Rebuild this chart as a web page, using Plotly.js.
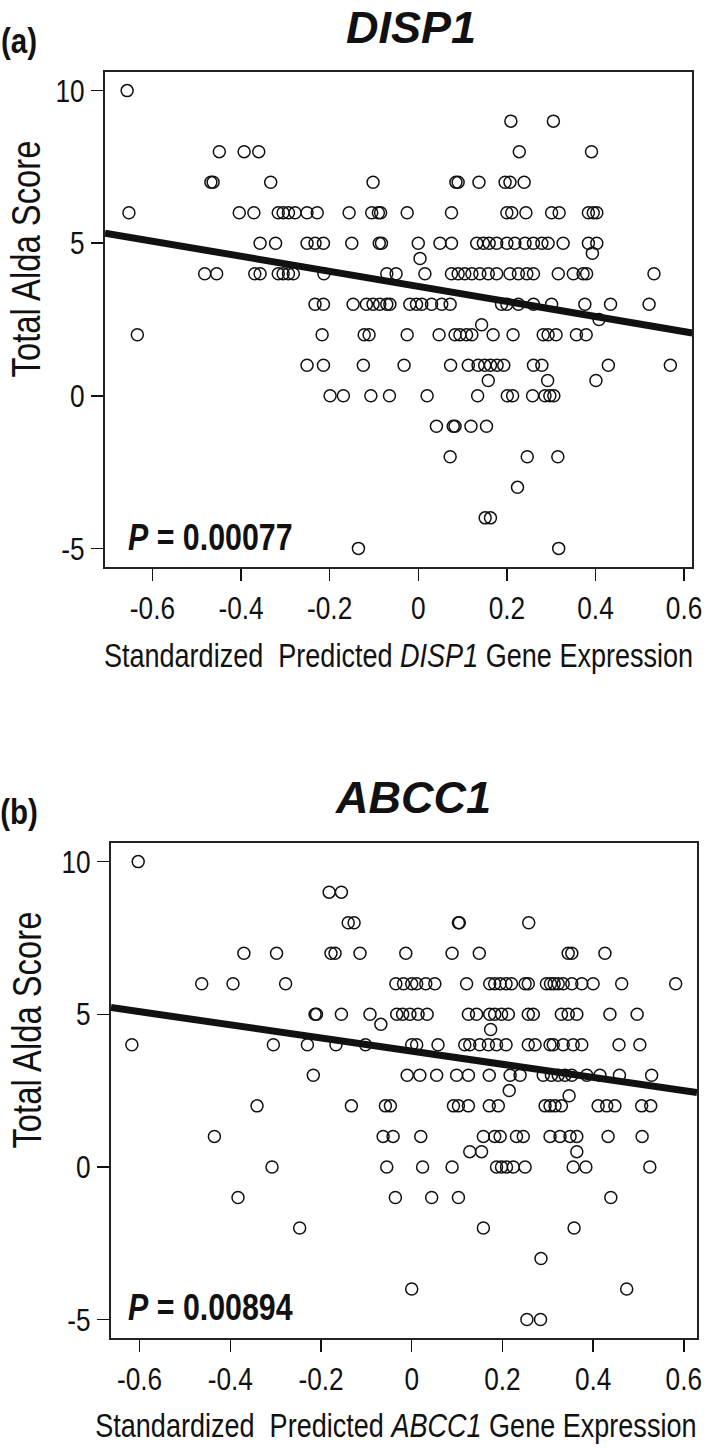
<!DOCTYPE html>
<html>
<head>
<meta charset="utf-8">
<script src="https://cdn.plot.ly/plotly-3.0.1.min.js"></script>
<style>html,body{margin:0;padding:0;background:#fff;}#chart{width:709px;height:1451px;}</style>
</head>
<body>
<div id="chart"></div>
<script>
// ---------- Panel (a) DISP1 ----------
const dispScores = [10, 9, 8, 7, 6, 5, 4.67, 4.5, 4, 3, 2.5, 2.33, 2, 1, 0.5, 0, -1, -2, -3, -4, -5];
const dispExpr = [
  [-0.657],
  [0.209, 0.305],
  [-0.449, -0.393, -0.360, 0.228, 0.391],
  [-0.468, -0.463, -0.333, -0.102, 0.085, 0.090, 0.137, 0.196, 0.207, 0.239],
  [-0.653, -0.404, -0.371, -0.316, -0.305, -0.293, -0.278, -0.251, -0.228, -0.156, -0.105, -0.090, -0.085, -0.025, 0.075, 0.200, 0.211, 0.243, 0.301, 0.318, 0.384, 0.395, 0.403],
  [-0.357, -0.322, -0.251, -0.233, -0.214, -0.150, -0.088, -0.083, 0.000, 0.049, 0.075, 0.132, 0.147, 0.160, 0.177, 0.200, 0.218, 0.241, 0.260, 0.279, 0.293, 0.327, 0.384, 0.403],
  [0.393],
  [0.004],
  [-0.482, -0.455, -0.369, -0.357, -0.316, -0.305, -0.293, -0.282, -0.213, -0.071, -0.050, 0.015, 0.075, 0.090, 0.105, 0.121, 0.139, 0.158, 0.177, 0.207, 0.226, 0.245, 0.260, 0.316, 0.350, 0.372, 0.380, 0.532],
  [-0.233, -0.214, -0.147, -0.117, -0.102, -0.087, -0.071, -0.064, -0.019, -0.004, 0.008, 0.030, 0.053, 0.072, 0.188, 0.200, 0.226, 0.260, 0.301, 0.376, 0.434, 0.521],
  [0.408],
  [0.143],
  [-0.634, -0.217, -0.122, -0.111, -0.025, 0.047, 0.083, 0.094, 0.109, 0.121, 0.169, 0.214, 0.282, 0.293, 0.311, 0.357, 0.379],
  [-0.251, -0.214, -0.124, -0.032, 0.073, 0.113, 0.135, 0.150, 0.163, 0.178, 0.193, 0.260, 0.279, 0.429, 0.569],
  [0.158, 0.292, 0.401],
  [-0.199, -0.169, -0.107, -0.065, 0.020, 0.134, 0.201, 0.213, 0.258, 0.286, 0.297, 0.306],
  [0.041, 0.079, 0.083, 0.119, 0.154],
  [0.072, 0.246, 0.315],
  [0.224],
  [0.151, 0.163],
  [-0.135, 0.317]
];
const dispFitX = [-0.707, 0.6185];
const dispFitY = [5.33, 2.06];
const dispP = "0.00077";

// ---------- Panel (b) ABCC1 ----------
const abccScores = [10, 9, 8, 7, 6, 5, 4.67, 4.5, 4, 3, 2.5, 2.33, 2, 1, 0.5, 0, -1, -2, -3, -4, -5];
const abccExpr = [
  [-0.603],
  [-0.182, -0.155],
  [-0.140, -0.127, 0.103, 0.105, 0.258],
  [-0.370, -0.298, -0.178, -0.169, -0.114, -0.013, 0.089, 0.149, 0.345, 0.353, 0.426],
  [-0.463, -0.394, -0.278, -0.035, -0.018, 0.000, 0.011, 0.031, 0.051, 0.121, 0.172, 0.183, 0.195, 0.208, 0.220, 0.250, 0.257, 0.297, 0.306, 0.314, 0.323, 0.334, 0.353, 0.375, 0.400, 0.463, 0.582],
  [-0.213, -0.210, -0.155, -0.092, -0.033, -0.020, -0.004, 0.014, 0.034, 0.125, 0.143, 0.172, 0.183, 0.198, 0.213, 0.257, 0.268, 0.330, 0.345, 0.364, 0.437, 0.497],
  [-0.068],
  [0.174],
  [-0.617, -0.305, -0.230, -0.167, -0.102, 0.000, 0.011, 0.058, 0.117, 0.128, 0.150, 0.169, 0.187, 0.208, 0.257, 0.272, 0.305, 0.312, 0.334, 0.356, 0.375, 0.457, 0.503],
  [-0.217, -0.010, 0.018, 0.055, 0.099, 0.125, 0.171, 0.217, 0.239, 0.290, 0.308, 0.323, 0.338, 0.353, 0.386, 0.415, 0.458, 0.529],
  [0.215],
  [0.347],
  [-0.341, -0.133, -0.058, -0.047, 0.092, 0.103, 0.125, 0.171, 0.191, 0.294, 0.305, 0.316, 0.330, 0.411, 0.430, 0.448, 0.507, 0.527],
  [-0.435, -0.063, -0.041, 0.020, 0.158, 0.183, 0.195, 0.231, 0.246, 0.305, 0.327, 0.349, 0.364, 0.433, 0.508],
  [0.128, 0.154, 0.364],
  [-0.308, -0.055, 0.024, 0.089, 0.187, 0.198, 0.209, 0.224, 0.250, 0.356, 0.384, 0.525],
  [-0.383, -0.036, 0.044, 0.103, 0.439],
  [-0.247, 0.158, 0.358],
  [0.285],
  [0.000, 0.474],
  [0.254, 0.284]
];
const abccFitX = [-0.663, 0.629];
const abccFitY = [5.22, 2.44];
const abccP = "0.00894";

// ---------- Axis ticks ----------
const xTickVals = [-0.6, -0.4, -0.2, 0, 0.2, 0.4, 0.6];
const xTickText = ["-0.6", "-0.4", "-0.2", "0", "0.2", "0.4", "0.6"];
const yTickVals = [-5, 0, 5, 10];
const yTickText = ["-5", "0", "5", "10"];

function flatten(scores, expr) {
  const xs = [], ys = [];
  scores.forEach((s, i) => expr[i].forEach(v => { xs.push(v); ys.push(s); }));
  return {xs, ys};
}
const A = flatten(dispScores, dispExpr);
const B = flatten(abccScores, abccExpr);

const W = 709, H = 1451;
const SANS = "'Liberation Sans', Arial, sans-serif";
const INK = '#111';
const NARROW_SCALE = 0.82; // emulate an Arial-Narrow-like condensed face

const markerStyle = {symbol: 'circle-open', size: 12, color: INK, line: {width: 1.5, color: INK}};

const traces = [
  {x: A.xs, y: A.ys, type: 'scatter', mode: 'markers', marker: markerStyle, xaxis: 'x', yaxis: 'y'},
  {x: dispFitX, y: dispFitY, type: 'scatter', mode: 'lines', line: {color: INK, width: 7}, xaxis: 'x', yaxis: 'y'},
  {x: B.xs, y: B.ys, type: 'scatter', mode: 'markers', marker: markerStyle, xaxis: 'x2', yaxis: 'y2'},
  {x: abccFitX, y: abccFitY, type: 'scatter', mode: 'lines', line: {color: INK, width: 7}, xaxis: 'x2', yaxis: 'y2'}
];

function baseAxis(domain, range, anchor, vals, texts) {
  return {domain, range, anchor, tickvals: vals, ticktext: texts,
    ticks: 'outside', ticklen: 12, tickwidth: 1.5, tickcolor: INK,
    showline: true, mirror: true, linecolor: '#222', linewidth: 2,
    showgrid: false, zeroline: false, fixedrange: true,
    tickfont: {family: SANS, size: 32, color: INK}};
}

const px = v => v / W;
const py = v => 1 - v / H;
const OFF = 770.7;

const annotations = [];
const narrowIdx = [];
function addAnn(a, narrow) {
  if (narrow) narrowIdx.push(annotations.length);
  annotations.push(Object.assign({xref: 'paper', yref: 'paper', showarrow: false, xanchor: 'center', yanchor: 'middle'}, a));
}
function panelAnnotations(tag, gene, pval, off, xCenter, titleX, frameMid) {
  addAnn({text: '<b>' + tag + '</b>', x: px(19), y: py(41 + off), font: {family: SANS, size: 36, color: INK}}, true);
  addAnn({text: '<b><i>' + gene + '</i></b>', x: px(titleX), y: py(27 + off), font: {family: SANS, size: 45, color: INK}}, false);
  addAnn({text: '<b><i>P</i> = ' + pval + '</b>', x: px(210), y: py(537 + off), font: {family: SANS, size: 37, color: INK}}, true);
  addAnn({text: 'Standardized&nbsp;&nbsp;Predicted <i>' + gene + '</i> Gene Expression', x: px(xCenter), y: py(655 + off), font: {family: SANS, size: 33, color: INK}}, true);
  addAnn({text: 'Total Alda Score', textangle: -90, x: px(27), y: py(frameMid - 60), font: {family: SANS, size: 40, color: INK}}, true);
}
panelAnnotations('(a)', 'DISP1', dispP, 0, 398, 411, (72.3 + 566.7) / 2);
panelAnnotations('(b)', 'ABCC1', abccP, OFF, 396, 413, (843.3 + 1337.9) / 2);

const layout = {
  width: W, height: H, margin: {l: 0, r: 0, t: 0, b: 0},
  paper_bgcolor: '#fff', plot_bgcolor: '#fff', showlegend: false, hovermode: false,
  xaxis: baseAxis([105 / W, 692.3 / W], [-0.707, 0.6185], 'y', xTickVals, xTickText),
  yaxis: baseAxis([1 - 566.7 / H, 1 - 72.3 / H], [-5.6, 10.6], 'x', yTickVals, yTickText),
  xaxis2: baseAxis([111 / W, 697 / W], [-0.663, 0.629], 'y2', xTickVals, xTickText),
  yaxis2: baseAxis([1 - 1337.9 / H, 1 - 843.3 / H], [-5.6, 10.6], 'x2', yTickVals, yTickText),
  annotations
};

function condense(el) {
  const bb = el.getBBox();
  const anchor = el.getAttribute('text-anchor') || 'start';
  let cx = bb.x + bb.width / 2;
  if (anchor === 'end') cx = bb.x + bb.width;
  else if (anchor === 'start') cx = bb.x;
  const t = el.getAttribute('transform') || '';
  el.setAttribute('transform', (t + ' translate(' + cx + ',0) scale(' + NARROW_SCALE + ',1) translate(' + (-cx) + ',0)').trim());
}

Plotly.newPlot('chart', traces, layout, {staticPlot: true, displayModeBar: false}).then(gd => {
  gd.querySelectorAll('.xtick text, .x2tick text, .ytick text, .y2tick text').forEach(condense);
  gd.querySelectorAll('g.annotation').forEach(g => {
    const idx = +g.getAttribute('data-index');
    if (narrowIdx.indexOf(idx) >= 0) {
      const t = g.querySelector('text.annotation-text');
      if (t) condense(t);
    }
  });
});
</script>
</body>
</html>
